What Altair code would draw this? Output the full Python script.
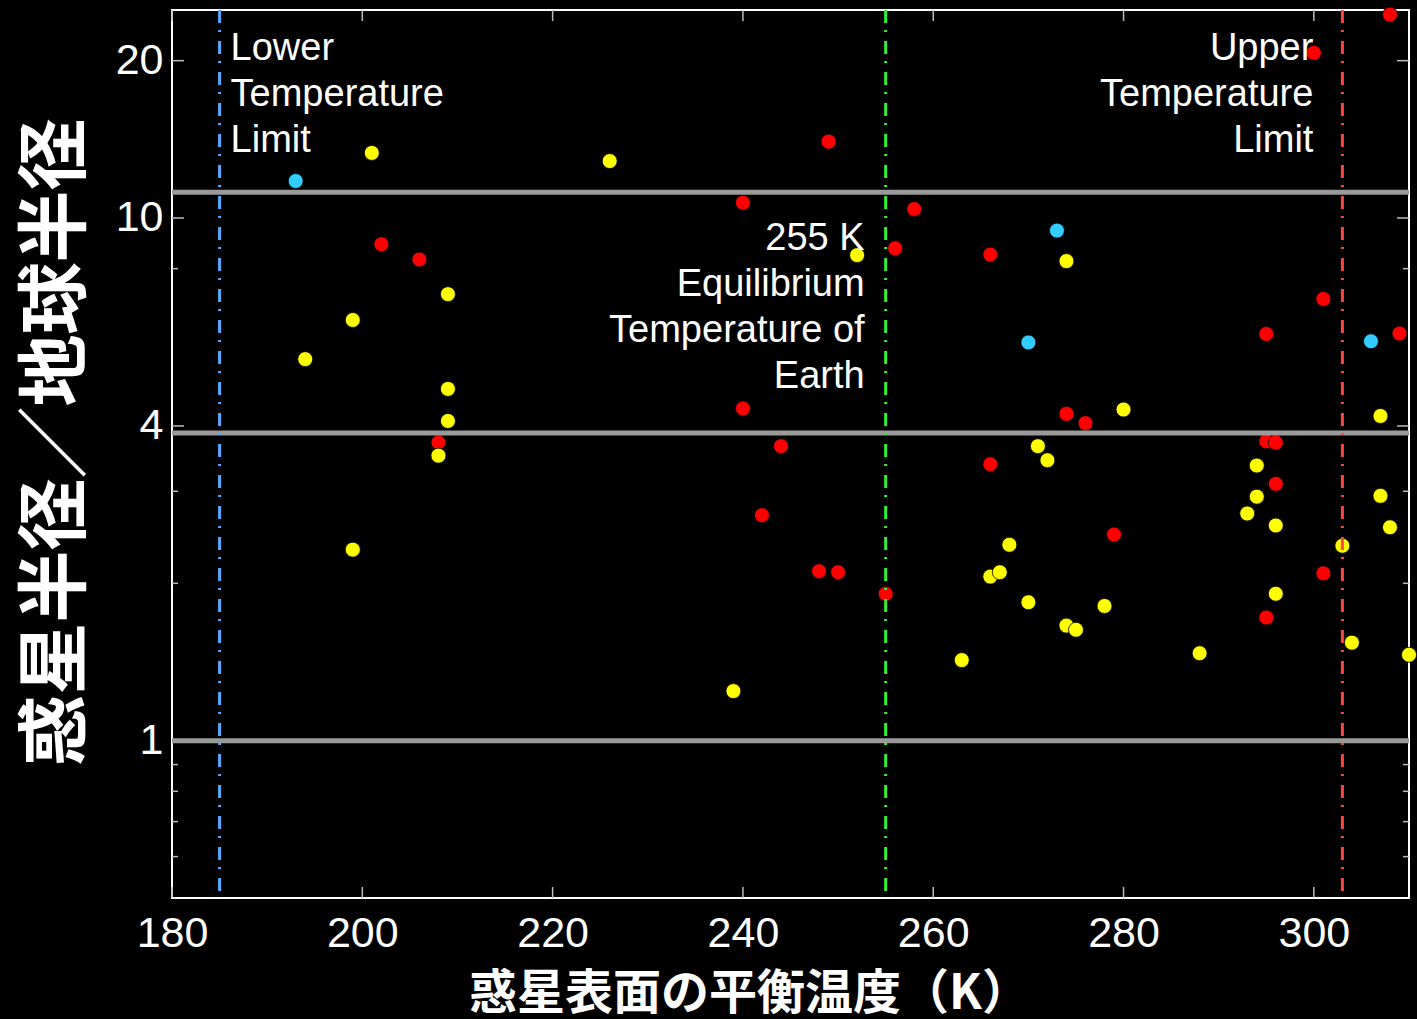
import altair as alt
import pandas as pd

# ---------------- data ----------------
red_temp = [249, 240, 258, 202, 206, 208, 256, 266, 240, 244, 242, 248, 250, 255,
            266, 274, 276, 279, 308, 300, 301, 295, 309, 295, 296, 296, 301, 295]
red_radius = [14.0, 10.7, 10.4, 8.91, 8.33, 3.72, 8.75, 8.51, 4.32, 3.66, 2.70, 2.11, 2.10, 1.91,
              3.38, 4.22, 4.05, 2.48, 24.5, 20.7, 7.0, 6.0, 6.01, 3.74, 3.72, 3.10, 2.09, 1.72]

yellow_temp = [201, 226, 209, 199, 194, 209, 209, 208, 199, 252, 274, 239, 263, 268, 266, 267,
               270, 274, 275, 278, 280, 271, 272, 288, 307, 294, 294, 293, 296, 307, 308, 303,
               296, 304, 310]
yellow_radius = [13.32, 12.85, 7.15, 6.38, 5.37, 4.71, 4.09, 3.51, 2.32, 8.49, 8.27, 1.244, 1.426,
                 2.37, 2.06, 2.10, 1.84, 1.66, 1.63, 1.81, 4.30, 3.66, 3.44, 1.47, 4.18, 3.36,
                 2.93, 2.72, 2.58, 2.94, 2.56, 2.36, 1.91, 1.54, 1.46]

cyan_temp = [193, 273, 270, 306]
cyan_radius = [11.77, 9.46, 5.78, 5.81]

hline_radii = [11.2, 3.88, 1.0]            # Jupiter, Neptune, Earth radii
vline_temps = [185, 255, 303]              # lower limit, Earth 255 K, upper limit
vline_names = ["lower", "earth", "upper"]

x_tick_labels = [180, 200, 220, 240, 260, 280, 300]
y_tick_labels = [1, 4, 10, 20]
y_major_ticks = [20, 10, 4]
y_minor_ticks = [8, 3, 2, 0.9, 0.8, 0.7, 0.6]

lower_text = "Lower\nTemperature\nLimit"
upper_text = "Upper\nTemperature\nLimit"
earth_text = "255 K\nEquilibrium\nTemperature of\nEarth"

x_title = "惑星表面の平衡温度（K）"
y_title = "惑星半径／地球半径"

# ---------------- tables ----------------
points = pd.concat([
    pd.DataFrame({"temp": red_temp, "radius": red_radius, "group": "red"}),
    pd.DataFrame({"temp": yellow_temp, "radius": yellow_radius, "group": "yellow"}),
    pd.DataFrame({"temp": cyan_temp, "radius": cyan_radius, "group": "cyan"}),
], ignore_index=True)
points["order"] = range(len(points))

hlines = pd.DataFrame({"radius": hline_radii})
vlines = pd.DataFrame({"temp": vline_temps, "name": vline_names})
xticks = pd.DataFrame({"temp": x_tick_labels})
ymaj = pd.DataFrame({"radius": y_major_ticks})
ymin = pd.DataFrame({"radius": y_minor_ticks})

W, H = 1237, 888
XS = alt.Scale(domain=[180, 310], nice=False, zero=False)
YS = alt.Scale(type="log", domain=[0.5, 25], nice=False)
LABEL_FONT = "Liberation Sans"
CJK = "Noto Sans CJK JP"

x_axis = alt.Axis(values=x_tick_labels, labelFontSize=43, labelColor="white", labelFont=LABEL_FONT,
                  tickSize=0, domain=False, grid=False, labelPadding=14, labelFlush=False,
                  labelOverlap=False, title=x_title, titleFont=CJK, titleFontWeight="bold",
                  titleFontSize=48, titleColor="white", titleX=577, titleY=96,
                  titleAlign="center", titleBaseline="middle", titleAnchor="start")
y_axis = alt.Axis(values=y_tick_labels, labelFontSize=43, labelColor="white", labelFont=LABEL_FONT,
                  tickSize=0, domain=False, grid=False, labelPadding=9, format="~g",
                  labelOverlap=False, labelFlush=False, title=y_title, titleFont=CJK,
                  titleFontWeight="bold", titleFontSize=72, titleColor="white",
                  titleAngle=270, titleX=-116, titleY=432, titleAlign="center",
                  titleBaseline="middle", titleAnchor="start")

def xe():
    return alt.X("temp:Q", scale=XS, axis=x_axis)

def ye():
    return alt.Y("radius:Q", scale=YS, axis=y_axis)

text_layers = []
for txt, t, dx, align, ypix in [(lower_text, 185, 11, "left", 50),
                                (upper_text, 303, -29, "right", 50),
                                (earth_text, 255, -21, "right", 240)]:
    text_layers.append(
        alt.Chart(pd.DataFrame({"temp": [t], "label": [txt]})).mark_text(
            font=LABEL_FONT, fontSize=38, color="white", align=align, baseline="alphabetic",
            dx=dx, lineBreak="\n", lineHeight=46
        ).encode(x=xe(), y=alt.value(ypix), text="label:N")
    )

hl = alt.Chart(hlines).mark_rule(color="#9a9a9a", strokeWidth=5).encode(
    y=ye(), x=alt.value(0), x2=alt.value(W))

pts = alt.Chart(points).mark_circle(size=225, opacity=1, stroke="black", strokeWidth=0.8).encode(
    x=xe(), y=ye(),
    color=alt.Color("group:N", scale=alt.Scale(domain=["red", "yellow", "cyan"],
                                               range=["#ff0000", "#ffff00", "#33ccff"]),
                    legend=None),
    order="order:Q",
)

vl = alt.Chart(vlines).mark_rule(strokeWidth=3, strokeDash=[13, 7, 2, 9]).encode(
    x=xe(), y=alt.value(0), y2=alt.value(H),
    color=alt.Color("name:N", scale=alt.Scale(domain=["lower", "earth", "upper"],
                                              range=["#55aaff", "#33ee33", "#ff4444"]),
                    legend=None),
)

tick_col = "#bbbbbb"
xt_bot = alt.Chart(xticks).mark_rule(color=tick_col, strokeWidth=1.5).encode(
    x=xe(), y=alt.value(H - 11), y2=alt.value(H))
xt_top = alt.Chart(xticks).mark_rule(color=tick_col, strokeWidth=1.5).encode(
    x=xe(), y=alt.value(0), y2=alt.value(11))
yt_maj_l = alt.Chart(ymaj).mark_rule(color=tick_col, strokeWidth=1.5).encode(
    y=ye(), x=alt.value(0), x2=alt.value(12))
yt_maj_r = alt.Chart(ymaj).mark_rule(color=tick_col, strokeWidth=1.5).encode(
    y=ye(), x=alt.value(W - 12), x2=alt.value(W))
yt_min_l = alt.Chart(ymin).mark_rule(color=tick_col, strokeWidth=1.5).encode(
    y=ye(), x=alt.value(0), x2=alt.value(6))
yt_min_r = alt.Chart(ymin).mark_rule(color=tick_col, strokeWidth=1.5).encode(
    y=ye(), x=alt.value(W - 6), x2=alt.value(W))

chart = alt.layer(
    pts, *text_layers, hl, xt_bot, xt_top, yt_maj_l, yt_maj_r, yt_min_l, yt_min_r, vl,
).resolve_scale(color="independent").properties(
    width=W, height=H,
    autosize=alt.AutoSizeParams(type="none"),
    padding={"left": 172, "top": 10, "right": 8, "bottom": 121},
    background="black",
).configure_view(stroke="white", strokeWidth=2)

chart.save("out.html", embed_options={"renderer": "svg", "actions": False})
